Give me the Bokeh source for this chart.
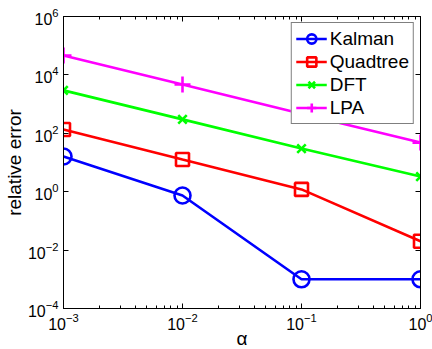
from bokeh.plotting import figure
from bokeh.models import Range1d, FixedTicker, LogAxis, LogTickFormatter, Legend, LegendItem, CustomJSTickFormatter
from bokeh.embed import file_html
from bokeh.resources import INLINE

alpha = [1e-3, 1e-2, 1e-1, 1]
kalman = [16, 0.74, 1e-3, 1e-3]
quadtree = [135, 12.6, 1.2, 0.02]
dft = [2950, 300, 30, 3.3]
lpa = [46000, 4700, 470, 48]

x_major = [1e-3, 1e-2, 1e-1, 1]
x_minor = [m * 10.0 ** e for e in (-3, -2, -1) for m in range(2, 10)]
y_major = [1e-4, 1e-2, 1, 1e2, 1e4, 1e6]

FONT = "Liberation Sans"

p = figure(frame_width=357, frame_height=292, x_axis_type="log", y_axis_type="log",
           x_range=Range1d(1e-3, 1), y_range=Range1d(1e-4, 1e6),
           output_backend="svg", toolbar_location=None,
           min_border_left=63, min_border_right=12, min_border_top=16, min_border_bottom=41)
p.background_fill_color = "white"
p.border_fill_color = "white"
p.outline_line_color = "black"
p.outline_line_width = 1
p.grid.visible = False

def style(ax, ticker, labels=True):
    ax.ticker = ticker
    ax.major_tick_in = 5
    ax.major_tick_out = 0
    ax.minor_tick_in = 3
    ax.minor_tick_out = 0
    ax.axis_line_color = "black"
    ax.major_tick_line_color = "black"
    ax.minor_tick_line_color = "black"
    ax.major_label_text_font = FONT
    ax.major_label_text_color = "black"
    ax.axis_label_text_color = "black"
    if labels:
        ax.major_label_text_font_size = "16px"
        ax.major_label_standoff = 5
    else:
        ax.formatter = CustomJSTickFormatter(code="return ' ';")
        ax.major_label_text_font_size = "2px"
        ax.major_label_text_alpha = 0
        ax.major_label_standoff = 0

xt = FixedTicker(ticks=x_major, minor_ticks=x_minor)
yt = FixedTicker(ticks=y_major, minor_ticks=[])

style(p.xaxis[0], xt)
style(p.yaxis[0], yt)
p.xaxis[0].formatter = LogTickFormatter()
p.yaxis[0].formatter = LogTickFormatter()
p.xaxis[0].major_label_standoff = 4
p.xaxis[0].axis_label = "α"
p.yaxis[0].axis_label = "relative error"
for ax in (p.xaxis[0], p.yaxis[0]):
    ax.axis_label_text_font = FONT
    ax.axis_label_text_font_size = "19px"
    ax.axis_label_text_font_style = "normal"
p.xaxis[0].axis_label_standoff = -5
p.yaxis[0].axis_label_standoff = 0

top = LogAxis()
style(top, FixedTicker(ticks=x_major, minor_ticks=x_minor), labels=False)
p.add_layout(top, "above")
right = LogAxis()
style(right, FixedTicker(ticks=y_major, minor_ticks=[]), labels=False)
p.add_layout(right, "right")

series = [
    ("Kalman", kalman, "#0000ff", "circle", 16),
    ("Quadtree", quadtree, "#ff0000", "square", 13),
    ("DFT", dft, "#00ff00", "x", 12),
    ("LPA", lpa, "#ff00ff", "cross", 16),
]
items = []
for name, ys, col, mk, sz in series:
    r1 = p.line(alpha, ys, line_color=col, line_width=2.6)
    r2 = p.scatter(alpha, ys, marker=mk, size=sz, line_color=col, fill_color=None, line_width=2.6)
    items.append(LegendItem(label=name, renderers=[r1, r2]))

leg = Legend(items=items, location="top_right")
leg.margin = 6
leg.padding = 4
leg.spacing = 0
leg.glyph_width = 31
leg.glyph_height = 23
leg.label_height = 23
leg.label_standoff = 3
leg.label_text_font = FONT
leg.label_text_font_size = "19px"
leg.label_text_color = "black"
leg.border_line_color = "black"
leg.border_line_width = 1
leg.background_fill_color = "white"
leg.background_fill_alpha = 1
p.add_layout(leg, "center")

open("out.html", "w").write(file_html(p, INLINE))
